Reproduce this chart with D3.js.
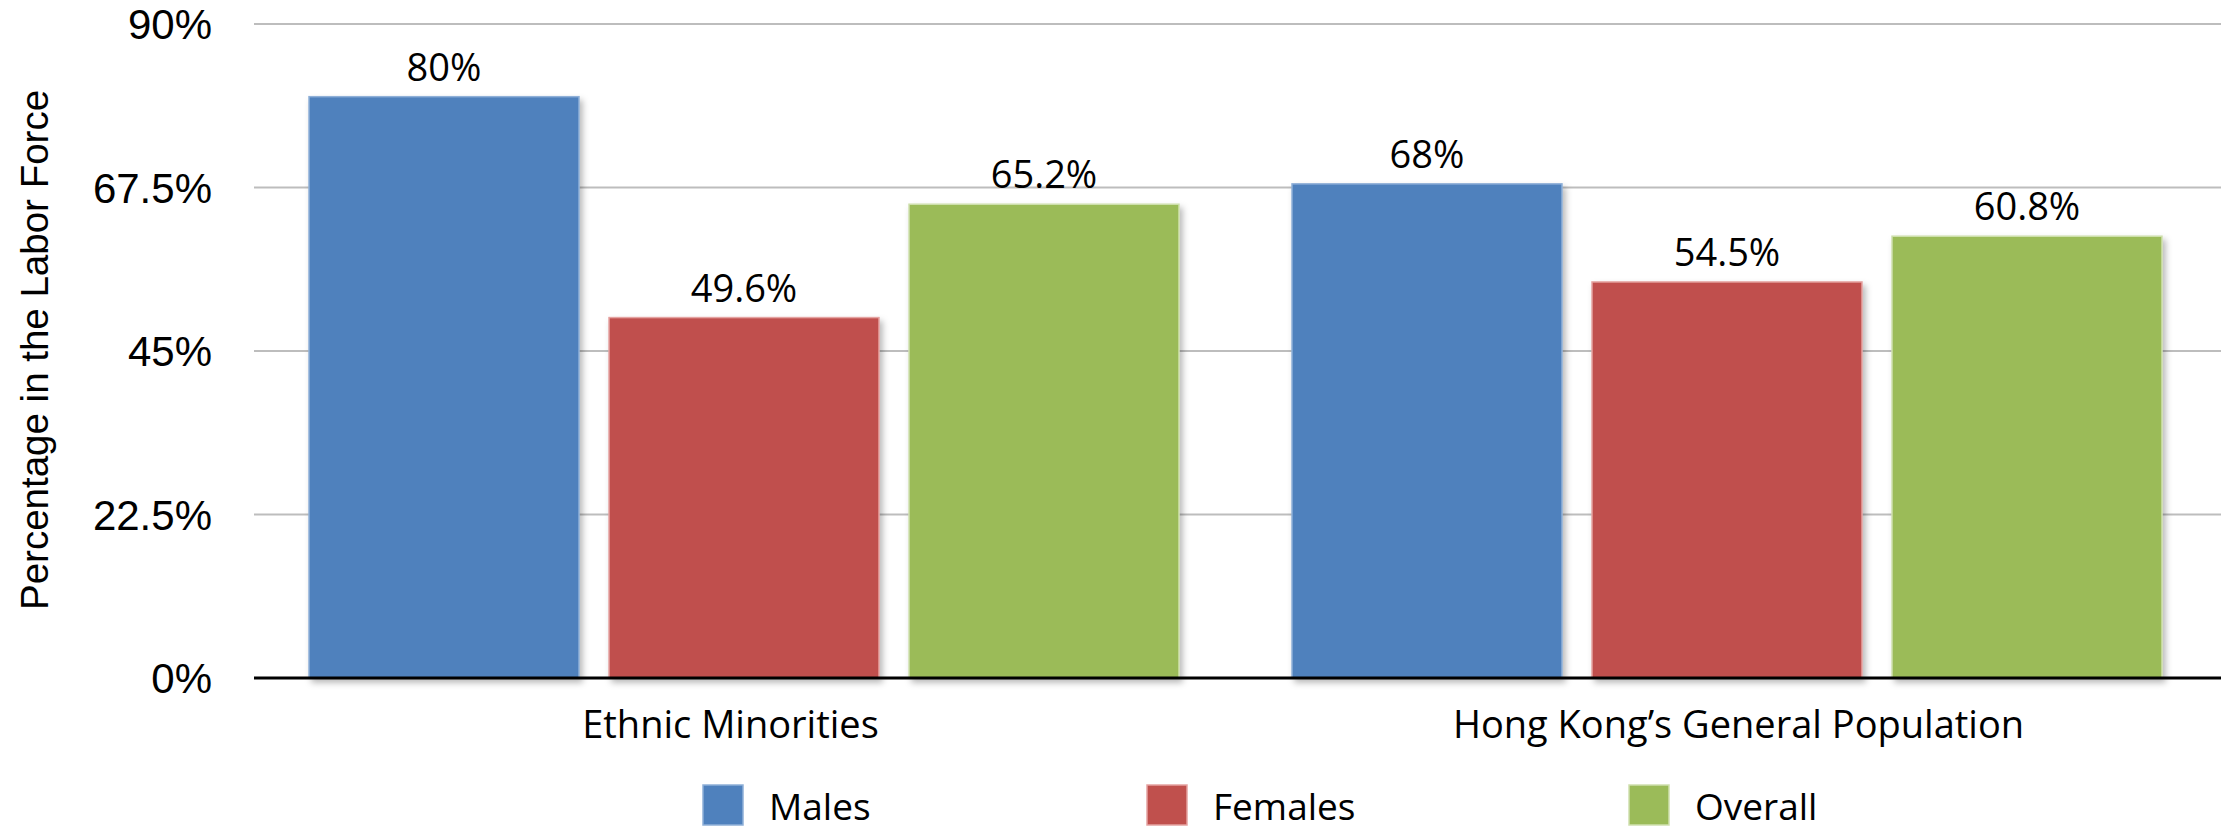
<!DOCTYPE html>
<html>
<head>
<meta charset="utf-8">
<script src="https://cdn.jsdelivr.net/npm/d3@7"></script>
<style>
  html, body { margin: 0; padding: 0; background: #fff; }
  svg { display: block; }
</style>
</head>
<body>
<svg id="chart" width="2221" height="830"></svg>
<script>
// ---- data ----
const categories = ["Ethnic Minorities", "Hong Kong\u2019s General Population"];
const seriesNames = ["Males", "Females", "Overall"];
const males = [80, 68];
const females = [49.6, 54.5];
const overall = [65.2, 60.8];
const tickValues = [0, 22.5, 45, 67.5, 90];
const tickLabels = ["0%", "22.5%", "45%", "67.5%", "90%"];
const axisTitle = "Percentage in the Labor Force";

// ---- layout / style ----
const colors = { Males: "#4F81BD", Females: "#C0504D", Overall: "#9BBB59" };
const edge = { Males: "#8fb0d8", Females: "#e5a3a1", Overall: "#cfe0ae" };
const seriesValues = { Males: males, Females: females, Overall: overall };

const svg = d3.select("#chart");
const plotLeft = 254, plotRight = 2221, yTop = 24, yBottom = 678;

const defs = svg.append("defs");
const f = defs.append("filter").attr("id", "shadow")
  .attr("x", "-5%").attr("y", "-5%").attr("width", "115%").attr("height", "115%");
f.append("feDropShadow").attr("dx", 3).attr("dy", 4).attr("stdDeviation", 3)
  .attr("flood-color", "#000").attr("flood-opacity", 0.28);

const y = d3.scaleLinear().domain([0, 90]).range([yBottom, yTop]);
const x0 = d3.scaleBand().domain(categories).range([plotLeft + 1, plotRight]).padding(0);
const x1 = d3.scaleBand().domain(seriesNames).range([54, 924]).paddingInner(0.1).paddingOuter(0);

// gridlines
svg.append("g").selectAll("line")
  .data(tickValues.filter(v => v > 0))
  .join("line")
  .attr("x1", plotLeft).attr("x2", plotRight)
  .attr("y1", d => y(d)).attr("y2", d => y(d))
  .attr("stroke", "#bdbdbd").attr("stroke-width", 2);

// y tick labels
svg.append("g").selectAll("text")
  .data(tickValues)
  .join("text")
  .attr("x", 212).attr("y", d => y(d))
  .attr("dy", "0.36em")
  .attr("text-anchor", "end")
  .attr("font-family", "'Liberation Sans', Arial, sans-serif")
  .attr("font-size", 42)
  .attr("fill", "#000")
  .text((d, i) => tickLabels[i]);

// axis title
svg.append("text")
  .attr("transform", `translate(48, ${(88 + 612) / 2}) rotate(-90)`)
  .attr("text-anchor", "middle")
  .attr("font-family", "'Liberation Sans', Arial, sans-serif")
  .attr("font-size", 38.5)
  .attr("fill", "#000")
  .text(axisTitle);

// bars
const rows = categories.map((c, i) => ({
  cat: c,
  vals: seriesNames.map(s => ({ s, v: seriesValues[s][i] }))
}));

const groups = svg.append("g").selectAll("g")
  .data(rows).join("g")
  .attr("transform", d => `translate(${x0(d.cat)},0)`);

groups.selectAll("rect")
  .data(d => d.vals).join("rect")
  .attr("x", d => x1(d.s))
  .attr("y", d => y(d.v))
  .attr("width", x1.bandwidth())
  .attr("height", d => y(0) - y(d.v))
  .attr("fill", d => colors[d.s])
  .attr("stroke", d => edge[d.s])
  .attr("stroke-width", 1.5)
  .attr("filter", "url(#shadow)");

groups.selectAll("text.val")
  .data(d => d.vals).join("text")
  .attr("class", "val")
  .attr("x", d => x1(d.s) + x1.bandwidth() / 2)
  .attr("y", d => y(d.v) - 16)
  .attr("text-anchor", "middle")
  .attr("font-family", "'Open Sans', sans-serif")
  .attr("font-size", 38)
  .attr("fill", "#000")
  .text(d => `${d.v}%`);

// x axis line
svg.append("line")
  .attr("x1", plotLeft).attr("x2", plotRight)
  .attr("y1", y(0)).attr("y2", y(0))
  .attr("stroke", "#000").attr("stroke-width", 3);

// category labels
const catLabelShift = [-16, 9];
svg.append("g").selectAll("text")
  .data(categories).join("text")
  .attr("x", (d, i) => x0(d) + x0.bandwidth() / 2 + catLabelShift[i])
  .attr("y", 738)
  .attr("text-anchor", "middle")
  .attr("font-family", "'Open Sans', sans-serif")
  .attr("font-size", 38)
  .attr("fill", "#000")
  .text(d => d);

// legend
const legendX = [703, 1147, 1629];
const leg = svg.append("g").selectAll("g")
  .data(seriesNames).join("g")
  .attr("transform", (d, i) => `translate(${legendX[i]}, 785)`);
leg.append("rect")
  .attr("width", 40).attr("height", 40)
  .attr("fill", d => colors[d])
  .attr("stroke", d => edge[d]).attr("stroke-width", 1.5);
leg.append("text")
  .attr("x", 66).attr("y", 35)
  .attr("font-family", "'Open Sans', sans-serif")
  .attr("font-size", 37)
  .attr("fill", "#000")
  .text(d => d);
</script>
</body>
</html>
